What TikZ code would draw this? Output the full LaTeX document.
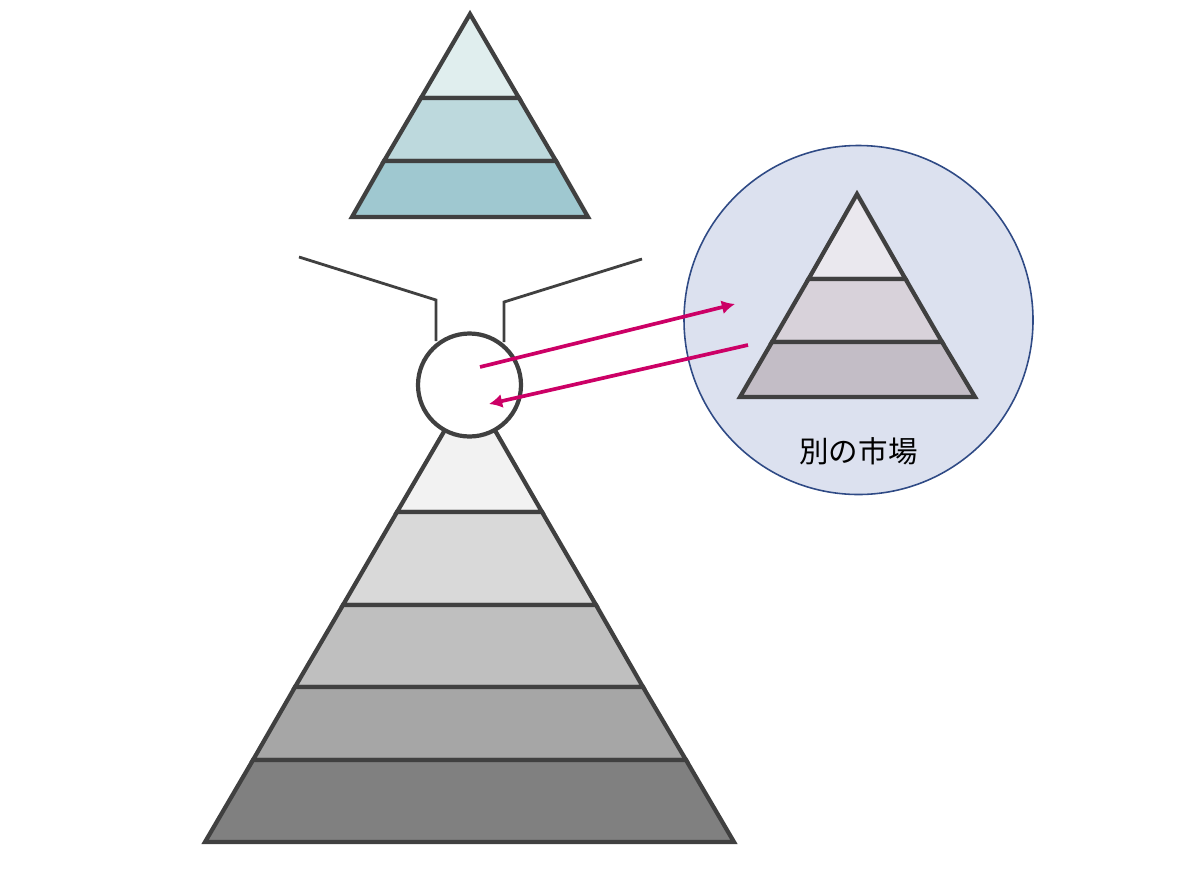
\documentclass[tikz,border=0pt]{standalone}
\usepackage{fontspec}
\usetikzlibrary{arrows.meta}
\newfontfamily\jpfont{Noto Sans CJK JP}
\definecolor{edgegray}{HTML}{404040}
\definecolor{arrowpink}{HTML}{CC0066}
\definecolor{marketblue}{HTML}{DCE1EF}
\definecolor{ringblue}{HTML}{2F4A85}
\tikzset{
    layer/.style={draw=edgegray,line width=2.4pt,line join=miter},
    funnel/.style={draw=edgegray,line width=1.6pt},
    flow/.style={draw=arrowpink,line width=2.1pt,-{Latex[length=7.5pt,width=8pt]}}
}
\begin{document}
\begin{tikzpicture}[x=0.02cm,y=-0.02cm]
        \useasboundingbox (0,0) rectangle (1192,869);
        % main pyramid
        \draw[layer,fill=black!5] (470,387) -- (397,512) -- (542,512) -- cycle;
        \draw[layer,fill=black!15] (397,512) -- (343,605) -- (596,605) -- (542,512) -- cycle;
        \draw[layer,fill=black!25] (343,605) -- (295,687) -- (643,687) -- (596,605) -- cycle;
        \draw[layer,fill=black!35] (295,687) -- (253,760) -- (686,760) -- (643,687) -- cycle;
        \draw[layer,fill=black!50] (253,760) -- (205,842) -- (734,842) -- (686,760) -- cycle;
        \draw[layer,fill=white] (469.5,385) circle [radius=51.5];
        % funnel
        \draw[funnel] (299,257) -- (436,300) -- (436,341);
        \draw[funnel] (642,259) -- (504,302) -- (504,342);
        % top pyramid
        \draw[layer,fill={rgb,255:red,224;green,238;blue,238}] (470,14) -- (421,98) -- (519,98) -- cycle;
        \draw[layer,fill={rgb,255:red,189;green,217;blue,221}] (421,98) -- (384,161) -- (556,161) -- (519,98) -- cycle;
        \draw[layer,fill={rgb,255:red,159;green,200;blue,208}] (384,161) -- (352,217) -- (588,217) -- (556,161) -- cycle;
        % other market
        \draw[draw=ringblue,line width=0.9pt,fill=marketblue] (858.5,320) circle [radius=174.5];
        \draw[layer,fill={rgb,255:red,234;green,232;blue,238}] (857,194) -- (808.5,279) -- (905.5,279) -- cycle;
        \draw[layer,fill={rgb,255:red,216;green,210;blue,218}] (808.5,279) -- (772,342) -- (942,342) -- (905.5,279) -- cycle;
        \draw[layer,fill={rgb,255:red,195;green,189;blue,198}] (772,342) -- (740,397) -- (975,397) -- (942,342) -- cycle;
        \node (market) at (858.5,451) {\jpfont\fontsize{16.8pt}{20pt}\selectfont 別の市場};
        % arrows
        \coordinate (outstart) at (480,367);
        \coordinate (outend) at (735,304);
        \coordinate (backstart) at (748,345);
        \coordinate (backend) at (489,404);
        \draw[flow] (outstart) -- (outend);
        \draw[flow] (backstart) -- (backend);
    \end{tikzpicture}
\end{document}
